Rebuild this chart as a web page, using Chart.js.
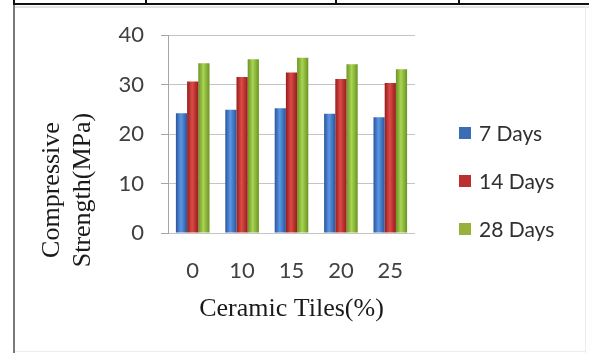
<!DOCTYPE html>
<html>
<head>
<meta charset="utf-8">
<script src="https://cdn.jsdelivr.net/npm/chart.js@4.4.1/dist/chart.umd.min.js"></script>
<style>
  html, body { margin: 0; padding: 0; background: #fff; }
  #wrap { width: 589px; height: 353px; position: relative; }
  canvas { display: block; }
</style>
</head>
<body>
<div id="wrap"><canvas id="chart" width="589" height="353"></canvas></div>
<script>
// Ceramic tile replacement (%) vs. compressive strength at 7, 14 and 28 days
const categories = ['0', '10', '15', '20', '25'];
const strength7 = [24.2, 24.9, 25.2, 24.1, 23.4];
const strength14 = [30.6, 31.5, 32.4, 31.1, 30.3];
const strength28 = [34.3, 35.1, 35.4, 34.1, 33.1];
const seriesNames = ['7 Days', '14 Days', '28 Days'];
const yTitleLines = ['Compressive', 'Strength(MPa)'];
const xTitle = 'Ceramic Tiles(%)';

const CAT_PCT = 0.68;
const BAR_PCT = 1.0;

// cylinder-like shading: dark edges, lighter centre
function barFill(dsIndex, dark, light, mid) {
  return (c) => {
    const chart = c.chart;
    const xs = chart.scales && chart.scales.x;
    if (!xs || c.type !== 'data' || !xs.width) return mid;
    const cat = xs.width / categories.length;
    const groupW = cat * CAT_PCT;
    const slot = groupW / 3;
    const barW = slot * BAR_PCT;
    const center = xs.getPixelForValue(c.dataIndex);
    const left = center - groupW / 2 + dsIndex * slot + (slot - barW) / 2;
    const g = chart.ctx.createLinearGradient(left, 0, left + barW, 0);
    g.addColorStop(0, dark);
    g.addColorStop(0.45, light);
    g.addColorStop(1, dark);
    return g;
  };
}

const legendColors = ['#3a6db5', '#b9302e', '#98b03c'];

// page frame: table rule at the top and the chart box border
const framePlugin = {
  id: 'frame',
  beforeDraw(chart) {
    const ctx = chart.ctx;
    ctx.save();
    ctx.fillStyle = '#ffffff';
    ctx.fillRect(0, 0, chart.width, chart.height);
    ctx.fillStyle = '#111111';
    ctx.fillRect(13, 3, chart.width - 13, 2);
    [13, 145, 335, 458].forEach(x => ctx.fillRect(x, 0, 2, 5));
    ctx.fillStyle = '#e2e2e2';
    ctx.fillRect(15, 6, chart.width - 15, 2);
    ctx.fillStyle = '#ececec';
    ctx.fillRect(585, 6, 1, chart.height - 6);
    ctx.fillRect(15, 351, 570, 1);
    ctx.fillStyle = '#7a7a7a';
    ctx.fillRect(13, 5, 2, chart.height - 5);
    ctx.restore();
  }
};

// vertical two-line axis title and the right-hand legend
const labelsPlugin = {
  id: 'sideLabels',
  afterDraw(chart) {
    const ctx = chart.ctx;
    ctx.save();
    // y title
    ctx.translate(52, 190);
    ctx.rotate(-Math.PI / 2);
    ctx.fillStyle = '#1a1a1a';
    ctx.font = '26px "Liberation Serif", "Times New Roman", serif';
    ctx.textAlign = 'center';
    ctx.textBaseline = 'middle';
    yTitleLines.forEach((t, i) => ctx.fillText(t, 0, i * 31));
    ctx.restore();

    // legend
    ctx.save();
    ctx.font = '21px Lato, "Liberation Sans", sans-serif';
    ctx.textBaseline = 'middle';
    ctx.textAlign = 'left';
    chart.data.datasets.forEach((ds, i) => {
      const y = 133 + i * 48;
      ctx.fillStyle = legendColors[i];
      ctx.fillRect(459, y - 6, 12, 12);
      ctx.fillStyle = '#303030';
      ctx.fillText(ds.label, 479, y + 1);
    });
    ctx.restore();
  }
};

const tickFont = { family: 'Lato, "Liberation Sans", sans-serif', size: 22 };

new Chart(document.getElementById('chart'), {
  type: 'bar',
  data: {
    labels: categories,
    datasets: [
      { label: seriesNames[0], data: strength7,
        backgroundColor: barFill(0, '#2a559c', '#5b97e4', '#3c78d0') },
      { label: seriesNames[1], data: strength14,
        backgroundColor: barFill(1, '#961c1c', '#dc4c46', '#c0302c') },
      { label: seriesNames[2], data: strength28,
        backgroundColor: barFill(2, '#6a9420', '#a9d454', '#8cbf3c') }
    ]
  },
  options: {
    responsive: false,
    animation: false,
    devicePixelRatio: 1,
    categoryPercentage: CAT_PCT,
    barPercentage: BAR_PCT,
    layout: { padding: { left: 0, top: 35, right: 174, bottom: 0 } },
    plugins: {
      legend: { display: false },
      tooltip: { enabled: false }
    },
    scales: {
      x: {
        grid: { display: false, drawTicks: false },
        border: { display: false },
        ticks: { font: tickFont, color: '#404040', padding: 25 },
        title: {
          display: true,
          text: xTitle,
          color: '#1a1a1a',
          font: { family: '"Liberation Serif", "Times New Roman", serif', size: 26 },
          padding: { top: 0, bottom: 28 }
        },
        afterFit(s) { s.height = 120; }
      },
      y: {
        min: 0,
        max: 40,
        ticks: { stepSize: 10, font: tickFont, color: '#404040', padding: 17 },
        grid: { color: '#c4c4c4', tickLength: 7, tickColor: '#a6a6a6' },
        border: { color: '#a6a6a6' },
        afterFit(s) { s.width = 168; }
      }
    }
  },
  plugins: [framePlugin, labelsPlugin]
});
</script>
</body>
</html>
